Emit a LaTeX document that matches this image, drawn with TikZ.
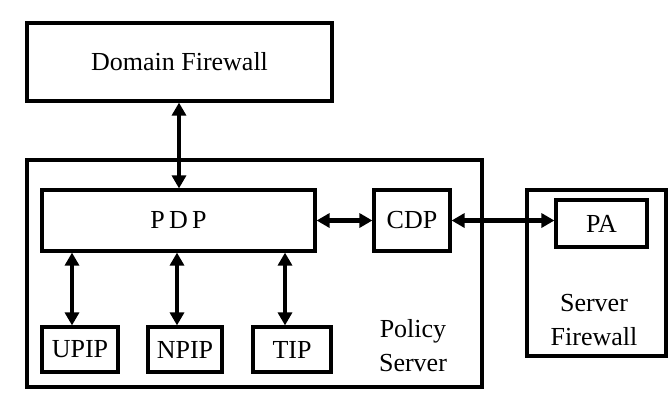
\documentclass[tikz,border=0pt]{standalone}
\usepackage{fontspec}
\setmainfont{Liberation Serif}
\usetikzlibrary{arrows.meta}

\begin{document}
\begin{tikzpicture}[x=0.5pt, y=-0.5pt,
        font=\fontsize{13}{17}\selectfont,
        box/.style={draw, line width=1.6pt, inner sep=0pt},
        link/.style={{Triangle[length=6.5pt,width=7pt]}-{Triangle[length=6.5pt,width=7pt]}, line width=1.6pt},
        wide/.style={link, line width=2.2pt}]
    \useasboundingbox (0,0) rectangle (669,398);

    % outer boxes
    \node[box, minimum width=152.5pt, minimum height=39pt] (domain) at (179.5,62) {Domain Firewall};
    \node[box, minimum width=227.5pt, minimum height=113.5pt] (policy) at (254.5,273.5) {};
    \node[box, minimum width=69.5pt, minimum height=83pt] (srvfw) at (596.5,273) {};

    % inner boxes
    \node[box, minimum width=136.5pt, minimum height=30.5pt] (pdp) at (178.5,220.5) {P\,D\,P};
    \node[box, minimum width=38pt, minimum height=30.5pt] (cdp) at (412,220.5) {CDP};
    \node[box, minimum width=38pt, minimum height=22.5pt] (upip) at (80,349.5) {UPIP};
    \node[box, minimum width=37pt, minimum height=22.5pt] (npip) at (185,349.5) {NPIP};
    \node[box, minimum width=39pt, minimum height=22.5pt] (tip) at (292,349.5) {TIP};
    \node[box, minimum width=45.5pt, minimum height=23.5pt] (pa) at (601.5,223.5) {PA};

    \node[align=center] (pslabel) at (413,346) {Policy\\Server};
    \node[align=center] (sflabel) at (594,320) {Server\\Firewall};

    % connections
    \draw[link] (domain.south -| 179,0) -- (pdp.north -| 179,0);
    \draw[link] (pdp.south -| 72,0) -- (upip.north -| 72,0);
    \draw[link] (pdp.south -| 177,0) -- (npip.north -| 177,0);
    \draw[link] (pdp.south -| 285,0) -- (tip.north -| 285,0);
    \draw[wide] (pdp.east) -- (cdp.west);
    \draw[wide] (cdp.east) -- (cdp.east -| pa.west);
\end{tikzpicture}
\end{document}
